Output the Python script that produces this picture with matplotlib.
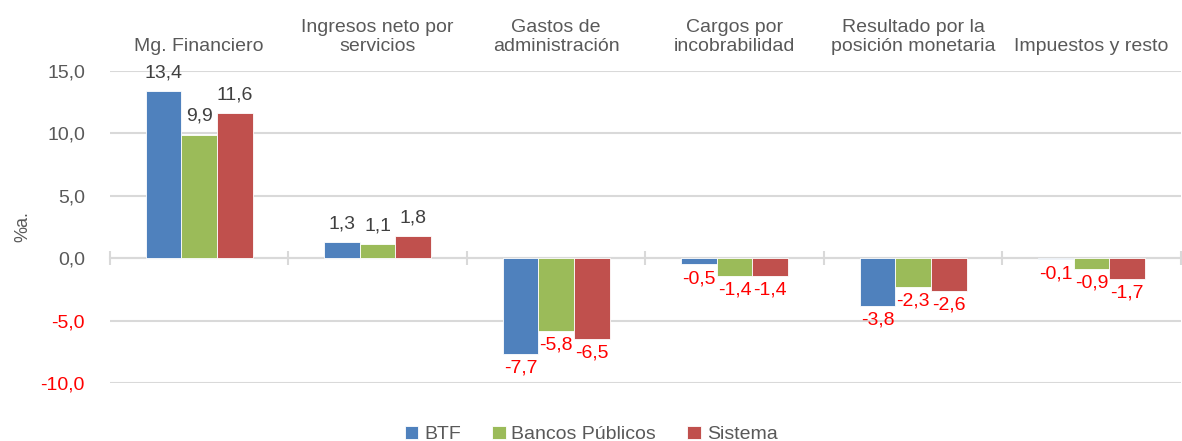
import numpy as np
import matplotlib
matplotlib.use("Agg")
import matplotlib.pyplot as plt
import matplotlib.transforms as mtransforms

# ── Data ───────────────────────────────────────────────────────────────────────
categories = ["Mg. Financiero", "Ingresos neto por\nservicios", "Gastos de\nadministración",
              "Cargos por\nincobrabilidad", "Resultado por la\nposición monetaria",
              "Impuestos y resto"]
btf = [13.4, 1.3, -7.7, -0.5, -3.8, -0.1]
bancos_publicos = [9.9, 1.1, -5.8, -1.4, -2.3, -0.9]
sistema = [11.6, 1.8, -6.5, -1.4, -2.6, -1.7]
series_names = ["BTF", "Bancos Públicos", "Sistema"]
yticks = [-10, -5, 0, 5, 10, 15]

# ── Style ──────────────────────────────────────────────────────────────────────
C_BTF = "#4F81BD"
C_BP = "#9BBB59"
C_SIS = "#C0504D"
C_TEXT = "#595959"
C_LABEL = "#404040"
C_NEG = "#FF0000"
C_GRID = "#D9D9D9"
FS = 14

plt.rcParams["font.family"] = ["Liberation Sans", "DejaVu Sans"]

fig = plt.figure(figsize=(11.82, 4.41), dpi=100)
ax = fig.add_axes([0.093, 0.1315, 0.906, 0.7075])

x = np.arange(len(categories))
w = 0.2
series = [btf, bancos_publicos, sistema]
colors = [C_BTF, C_BP, C_SIS]

for k, (vals, col, name) in enumerate(zip(series, colors, series_names)):
    pos = x + (k - 1) * w
    ax.bar(pos, vals, width=w, color=col, edgecolor="white", linewidth=0.6,
           label=name, zorder=3)
    for px, v in zip(pos, vals):
        txt = f"{v:.1f}".replace(".", ",")
        if v >= 0:
            ax.annotate(txt, (px, v), xytext=(0, 7), textcoords="offset points",
                        ha="center", va="bottom", fontsize=FS, color=C_LABEL)
        else:
            ax.annotate(txt, (px, v), xytext=(0, -4), textcoords="offset points",
                        ha="center", va="top", fontsize=FS, color=C_NEG)

ax.set_xlim(-0.5, len(categories) - 0.5)
ax.set_ylim(-10, 15)
ax.set_yticks(yticks)
ax.set_yticklabels([f"{t:.1f}".replace(".", ",") for t in yticks], fontsize=FS)
for lab, t in zip(ax.get_yticklabels(), yticks):
    lab.set_color(C_NEG if t < 0 else C_TEXT)
ax.tick_params(axis="y", length=0, pad=18)
ax.grid(axis="y", color=C_GRID, linewidth=1.5, zorder=0)
ax.set_axisbelow(True)

# zero axis with category boundary ticks
for s in ["top", "right", "left"]:
    ax.spines[s].set_visible(False)
ax.spines["bottom"].set_position(("data", 0))
ax.spines["bottom"].set_color(C_GRID)
ax.spines["bottom"].set_linewidth(1.5)
ax.set_xticks(np.arange(-0.5, len(categories), 1.0))
ax.set_xticklabels([])
ax.tick_params(axis="x", direction="inout", length=10, width=1.5, color=C_GRID)

# category names above plot area
trans = mtransforms.blended_transform_factory(ax.transData, ax.transAxes)
for xi, cat in zip(x, categories):
    ax.text(xi, 1.05, cat, transform=trans, ha="center", va="bottom",
            fontsize=FS, color=C_TEXT, linespacing=1.15)

ax.set_ylabel("%a.", fontsize=FS - 1, color=C_TEXT, va="center")
ax.yaxis.set_label_coords(-0.081, 0.5)

fig.legend(loc="lower center", bbox_to_anchor=(0.5, -0.045), ncol=3, frameon=False,
           fontsize=FS, handlelength=0.7, handleheight=0.7, handletextpad=0.3,
           columnspacing=1.6, labelcolor=C_TEXT)

fig.savefig("out.png", dpi=100)
